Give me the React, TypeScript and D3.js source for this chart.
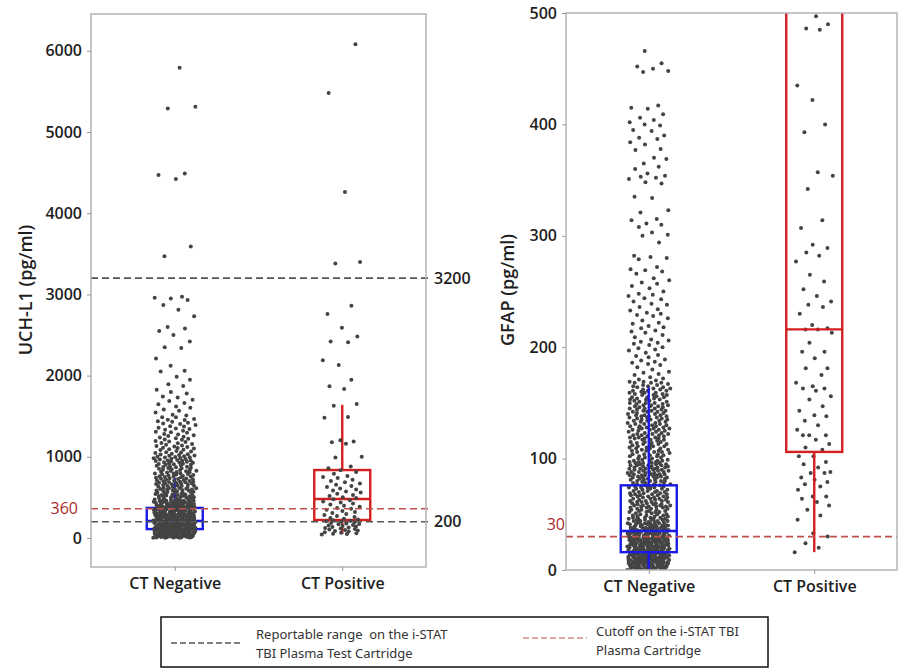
import React, { useEffect, useRef } from "react";
import * as d3 from "d3";

const categories = ["CT Negative", "CT Positive"];

// UCH-L1 (pg/ml), CT negative group
const uchNegative = [
  5790, 5310, 5290, 4490, 4470, 4420, 3590, 3470, 2960, 2970, 2950, 2930, 2870, 2810, 2730, 2600, 2580, 2550, 2500,
  2420, 2350, 2340, 2210, 2120, 2060, 2050,
  1985, 1948, 1893, 1871, 1826, 1797, 1781, 1744, 1731, 1702, 1688, 1663, 1647, 1621, 1604, 1583, 1566, 1547, 1519,
  1508, 1487, 1466, 1452, 1438, 1419, 1404, 1391, 1372, 1358, 1341, 1322, 1310, 1296, 1281, 1266, 1255, 1238, 1221,
  1209, 1196, 1183, 1171, 1158, 1147, 1133, 1121, 1113, 1102, 1094, 1083, 1071, 1064, 1052, 1047, 1038, 1029, 1021,
  1013, 1006, 1002, 1488, 1455, 1432, 1411, 1377, 1349, 1333, 1302, 1274, 1247, 1229, 1214, 1188, 1166, 1139, 1127,
  1108, 1088, 1057, 1033, 1016,
  998, 991, 985, 977, 972, 966, 958, 951, 947, 940, 933, 927, 921, 914, 908, 902, 897, 889, 884, 878, 871, 866, 859,
  853, 848, 841, 836, 829, 822, 817, 811, 806, 799, 793, 788, 781, 776, 770, 764, 759, 752, 747, 741, 735, 730, 724,
  718, 713, 707, 702, 995, 962, 931, 905, 874, 845, 813, 784, 756, 727, 981, 944, 912, 863, 826, 795, 762, 733, 711, 954,
  412, 687, 455, 531, 603, 478, 662, 419, 590, 545, 436, 508, 671, 627, 489, 402, 563, 694, 441, 519, 612, 466, 578,
  648, 427, 537, 499, 681, 586, 452, 623, 407, 555, 474, 639, 514, 698, 433, 571, 603, 486, 657, 526, 418, 595, 462,
  542, 676, 449, 616, 503, 568, 431, 689, 522, 641, 471, 584, 415, 549, 633, 495, 667, 438, 576, 512, 608, 459, 653,
  424, 535, 597, 481, 672, 446, 560, 620, 506, 409, 583, 644, 468, 529, 691, 493, 614, 443, 557, 665, 517,
  12, 187, 243, 76, 331, 158, 290, 45, 372, 119, 205, 63, 264, 348, 97, 176, 22, 311, 139, 229, 384, 88, 270, 51, 197,
  356, 131, 248, 34, 163, 320, 106, 281, 17, 214, 392, 71, 152, 337, 238, 58, 297, 124, 183, 366, 9, 257, 143, 42, 309,
  221, 84, 378, 167, 27, 276, 111, 342, 193, 66, 235, 399, 146, 14, 302, 91, 258, 178, 38, 361, 127, 216, 56, 287, 159,
  325, 103, 6, 246, 389, 171, 79, 268, 31, 199, 354, 115, 226, 48, 315, 137, 389, 19, 253, 94, 181, 340, 67, 294, 150,
  2, 210, 370, 122, 41, 279, 162, 83, 327, 232, 11, 190, 395, 100, 262, 53, 346, 141, 24, 304, 174, 73, 219, 381, 135,
  29, 284, 195, 60, 358, 110, 241, 15, 167, 318, 86, 273, 201, 37, 335, 128, 250, 4, 185, 364, 95, 222, 47, 299, 155,
  69, 376, 117, 266, 33, 207, 343, 142, 81, 289, 20, 230, 397, 108, 172, 58, 313, 254, 8, 192, 352, 131, 44, 277, 163,
  90, 368, 215, 26, 306, 119, 244, 65, 383, 180, 13, 260, 148, 77, 329, 203, 39, 295, 134, 221, 350, 98, 25, 271, 169,
  62, 387, 238, 113, 16, 322, 188, 74, 256, 145, 30,
  18, 233, 87, 301, 154, 372, 46, 209, 125, 283, 64, 339, 177, 7, 248, 101, 396, 139, 52, 265, 196, 80, 357, 120, 23,
  292, 165, 228, 39, 316, 93, 184, 5, 257, 133, 374, 70, 212, 151, 28,
  35, 278, 142, 361, 89, 214, 16, 330, 175, 52, 244, 398, 118, 287, 9, 196, 342, 74, 261, 158, 27, 311, 227, 99, 383,
  146, 41, 269, 186, 352, 61, 235, 12, 304, 129, 392, 83, 250, 170, 22, 323, 206, 112, 367, 48, 291, 160, 3, 275, 138,
  420, 445, 431, 458, 412, 437, 463, 426, 449, 405,
];

// UCH-L1 (pg/ml), CT positive group
const uchPositive = [
  6080, 5480, 4260, 3400, 3380, 2860, 2760, 2590, 2480, 2420, 2410, 2190, 2130, 1950, 1870, 1835, 1650, 1630, 1490,
  1480, 1205, 1190, 1180, 1160, 1000, 990, 880, 860,
  835, 812, 790, 764, 751, 738, 716, 702, 688, 671, 655, 640, 628, 611, 597, 584, 572, 559, 545, 531, 518, 503, 492,
  478, 466, 451, 437, 425, 412, 398, 386, 371, 359, 347, 333, 321, 308, 296, 284, 271, 259, 247, 236, 228,
  218, 212, 205, 199, 193, 186, 180, 174, 168, 161, 155, 148, 142, 136, 129, 123, 117, 110, 104, 98, 91, 85, 79, 72,
  66, 60, 54, 48, 42,
];

// GFAP (pg/ml), CT negative group
const gfapNegative = [
  466, 455, 452, 450, 448, 447, 417, 415, 414, 409, 406, 404, 402, 400, 399, 395, 394, 390, 388, 387, 384, 382, 378,
  377, 370, 369, 365, 362, 360, 356, 354, 353, 352, 351, 348, 347, 335, 334, 323, 321, 315, 314, 311, 310, 308, 303,
  301, 300, 294, 282, 281, 280, 279, 272, 270, 269, 268, 266, 262, 260, 258, 257, 255, 253, 250,
  248, 246, 243, 241, 239, 236, 234, 233, 230, 228, 226, 224, 221, 219, 218, 215, 213, 211, 209, 207, 205, 204, 202,
  200, 198, 197, 195, 193, 191, 189, 187, 186, 184, 182, 180, 178, 177, 175, 173, 171, 247, 238, 229, 222, 214, 206,
  199, 192, 185, 176, 244, 231, 217, 203, 188, 172,
  169, 104, 137, 152, 118, 161, 126, 143, 109, 158, 131, 147, 113, 166, 122, 139, 101, 155, 128, 144, 115, 163, 134,
  107, 150, 120, 141, 168, 111, 157, 125, 136, 103, 149, 117, 162, 130, 145, 108, 153, 121, 138, 165, 114, 146, 127,
  102, 159, 133, 119, 142, 167, 110, 154, 124, 140, 106, 160, 129, 148, 116, 135, 164, 112, 151, 123, 105, 143, 132,
  156, 119, 170, 100, 138, 126, 147, 113, 161, 131, 108, 152, 121, 144, 166, 117, 135, 103, 158, 128, 149, 111, 140,
  163, 125, 106, 154, 134, 118, 146, 169, 101, 137, 129, 159, 114, 150, 122, 142, 107, 165, 133, 120, 155, 139, 104,
  148, 127, 162, 112, 136, 115, 157, 130, 145, 109, 168, 123, 141, 102, 153,
  145, 118, 132, 157, 109, 126, 151, 138, 102, 164, 121, 147, 113, 135, 159, 106, 128, 142, 117, 153, 131, 110, 168,
  124, 139, 104, 148, 119, 134, 161, 111, 127, 155, 143, 107, 122, 137, 150, 115, 129,
  99, 84, 92, 87, 96, 81, 90, 94, 83, 98, 86, 91, 80, 95, 88, 93, 82, 97, 85, 89, 100, 84, 92, 87, 96, 81, 90, 94, 83,
  98, 86, 91, 80, 95, 88, 93, 82, 97, 85, 89, 91, 86, 98, 83, 94, 88, 80, 96, 92, 85,
  82, 95, 88, 91, 84, 98, 86, 93, 80, 97, 89, 83, 94, 87, 99, 81, 92, 85, 96, 90,
  3, 41, 17, 66, 29, 8, 52, 75, 12, 37, 59, 22, 1, 48, 70, 33, 14, 61, 26, 5, 44, 78, 19, 55, 31, 9, 68, 39, 2, 50, 24,
  73, 15, 57, 35, 6, 46, 63, 21, 79,
  11, 34, 58, 4, 27, 71, 43, 16, 64, 30, 7, 53, 38, 20, 76, 47, 13, 60, 25, 0, 42, 67, 32, 10, 56, 18, 74, 36, 3, 49,
  28, 62, 15, 45, 77, 23, 8, 54, 40, 69,
  6, 30, 51, 19, 72, 37, 2, 44, 65, 13, 26, 58, 9, 35, 79, 22, 48, 4, 61, 31, 17, 70, 40, 11, 53, 27, 1, 66, 38, 20, 46,
  75, 14, 57, 33, 7, 63, 24, 42, 10,
  18, 55, 5, 39, 68, 25, 12, 47, 74, 32, 3, 59, 21, 43, 15, 78, 36, 8, 52, 29, 64, 1, 45, 23, 71, 34, 11, 56, 41, 6, 62,
  28, 16, 50, 73, 37, 4, 60, 19, 33,
  9, 27, 46, 14, 65, 2, 38, 54, 21, 77, 31, 7, 49, 16, 69, 35, 24, 57, 12, 42, 3, 61, 28, 10, 52, 36, 18, 74, 44, 5, 30,
  67, 13, 40, 22, 58, 1, 47, 26, 15,
  20, 8, 35, 13, 29, 4, 43, 17, 25, 6, 39, 11, 31, 2, 22, 45, 15, 27, 7, 36, 10, 19, 33, 3, 24, 12, 41, 5, 28, 16, 37,
  9, 21, 1, 30, 14, 26, 6, 34, 18,
  23, 11, 32, 4, 19, 27, 8, 38, 14, 2, 25, 16, 31, 7, 21, 12, 36, 3, 28, 10, 17, 5, 24, 13, 33, 1, 20, 9, 29, 15, 6,
  26, 18, 35, 2, 22, 11, 30, 7, 16,
  2, 14, 27, 39, 51, 63, 75, 9, 21, 33, 45, 57, 69, 4, 16, 28, 40, 52, 64, 76, 11, 23, 35, 47, 59, 71, 6, 18, 30, 42,
  54, 66, 78, 1, 13, 25, 37, 49, 61, 73,
  8, 19, 31, 43, 55, 67, 3, 15, 26, 38, 50, 62, 74, 10, 22, 34, 46, 58, 70, 5, 17, 29, 41, 53, 65, 77, 12, 24, 36, 48,
  60, 72, 7, 20, 32, 44, 56, 68, 0, 27,
  13, 5, 22, 9, 31, 17, 3, 26, 11, 38, 7, 19, 1, 34, 15, 24, 8, 29, 12, 42, 4, 21, 16, 36, 10, 27, 2, 18, 33, 6, 23,
  14, 40, 9, 28, 3, 20, 12, 35, 25,
  4, 17, 10, 26, 1, 32, 14, 7, 22, 18, 39, 5, 12, 29, 24, 2, 15, 36, 8, 20, 11, 30, 3, 25, 16, 41, 6, 13, 27, 19, 9,
  33, 1, 23, 14, 37, 7, 21, 10, 31,
];

// GFAP (pg/ml), CT positive group (only the part visible below 500)
const gfapPositive = [
  497, 490, 486, 485, 435, 422, 400, 393, 357, 354, 342, 314, 307, 292, 289, 285, 282, 277, 265, 259, 252, 246, 241,
  238, 236, 230, 220, 217, 216, 216, 213, 204, 196, 196, 190, 181, 181, 175, 168, 165, 163, 163, 161, 156, 153, 147,
  143, 139, 138, 134, 130, 126, 121, 121, 121, 117, 113, 110, 108, 102, 102, 97, 95, 92, 88, 87, 87, 83, 81, 79, 77,
  75, 72, 66, 66, 64, 61, 58, 54, 49, 45, 33, 30, 24, 20, 16,
];

// box stats per category: [whisker low, Q1, median, Q3, whisker high]
const uchBoxes = [
  [10, 110, 210, 370, 740],
  [50, 222, 480, 837, 1640],
];
const gfapBoxes = [
  [1, 16, 35, 76, 164],
  [16, 106, 216, 620, 1100],
];

const uchTicks = [0, 1000, 2000, 3000, 4000, 5000, 6000];
const gfapTicks = [0, 100, 200, 300, 400, 500];
const uchReportable = [3200, 200];
const uchCutoff = 360;
const gfapCutoff = 30;

const FONT = "'Open Sans', 'Noto Sans', sans-serif";
const BOX_COLORS = ["#1a1ae6", "#d41f1f"];
const DOT = "#444444";
const GREY_DASH = "#555555";
const RED_DASH = "#c0504d";

// deterministic horizontal jitter, in [-0.5, 0.5)
const jitter = (k) => {
  const h = Math.sin(k * 127.1 + 3.7) * 43758.5453;
  const r = h - Math.floor(h);
  const g = (k * 0.6180339887) % 1;
  return (g * 0.92 + r * 0.08) - 0.5;
};

function drawPanel(svg, p) {
  const x = d3.scalePoint().domain(categories).range([p.x0, p.x1]).padding(0.5);
  const y = d3.scaleLinear().domain(p.domain).range([p.y1, p.y0]);

  svg
    .append("clipPath")
    .attr("id", p.clipId)
    .append("rect")
    .attr("x", p.x0)
    .attr("y", p.y0)
    .attr("width", p.x1 - p.x0)
    .attr("height", p.y1 - p.y0);

  const plot = svg.append("g").attr("clip-path", `url(#${p.clipId})`);

  const drawDots = () => {
    p.groups.forEach((vals, i) => {
      const sorted = [...vals].sort((a, b) => a - b);
      plot
        .append("g")
        .selectAll("circle")
        .data(sorted)
        .join("circle")
        .attr("cx", (d, k) => x(categories[i]) + jitter(k) * 2 * p.halfW[i])
        .attr("cy", (d) => y(d))
        .attr("r", 2)
        .attr("fill", DOT);
    });
  };

  const drawBoxes = () => {
    p.boxes.forEach((b, i) => {
      const cx = x(categories[i]);
      const [lo, q1, med, q3, hi] = b;
      const g = plot.append("g").attr("stroke", BOX_COLORS[i]).attr("stroke-width", 2.4).attr("fill", "none");
      g.append("line").attr("x1", cx).attr("x2", cx).attr("y1", y(lo)).attr("y2", y(q1));
      g.append("line").attr("x1", cx).attr("x2", cx).attr("y1", y(q3)).attr("y2", y(hi));
      g.append("rect")
        .attr("x", cx - 28)
        .attr("width", 56)
        .attr("y", y(q3))
        .attr("height", y(q1) - y(q3));
      g.append("line").attr("x1", cx - 28).attr("x2", cx + 28).attr("y1", y(med)).attr("y2", y(med));
    });
  };

  if (p.boxesOnTop) {
    drawDots();
    drawBoxes();
  } else {
    drawBoxes();
    drawDots();
  }

  // reference lines
  p.refLines.forEach((r) => {
    svg
      .append("line")
      .attr("x1", p.x0)
      .attr("x2", r.x2)
      .attr("y1", y(r.value))
      .attr("y2", y(r.value))
      .attr("stroke", r.color)
      .attr("stroke-width", 1.6)
      .attr("stroke-dasharray", "7,4");
    if (r.label) {
      svg
        .append("text")
        .attr("x", r.lx)
        .attr("y", y(r.value) + (r.dy || 0))
        .attr("dy", "0.35em")
        .attr("text-anchor", r.anchor)
        .style("font-family", FONT)
        .style("font-size", "16px")
        .style("font-weight", r.weight || 600)
        .attr("fill", r.labelColor)
        .text(r.label);
    }
  });

  // frame
  svg
    .append("rect")
    .attr("x", p.x0)
    .attr("y", p.y0)
    .attr("width", p.x1 - p.x0)
    .attr("height", p.y1 - p.y0)
    .attr("fill", "none")
    .attr("stroke", "#b4b4b4")
    .attr("stroke-width", 1.5);

  const yAxis = svg
    .append("g")
    .attr("transform", `translate(${p.x0},0)`)
    .call(d3.axisLeft(y).tickValues(p.ticks).tickFormat(d3.format("d")).tickSize(4).tickPadding(5));
  const xAxis = svg
    .append("g")
    .attr("transform", `translate(0,${p.y1})`)
    .call(d3.axisBottom(x).tickSize(4).tickPadding(7));
  [yAxis, xAxis].forEach((a) => {
    a.select(".domain").remove();
    a.selectAll(".tick line").attr("stroke", "#9a9a9a");
    a.selectAll("text")
      .style("font-family", FONT)
      .style("font-size", "16px")
      .style("font-weight", 600)
      .attr("fill", "#1e1e1e");
  });

  svg
    .append("text")
    .attr("transform", `translate(${p.titleX},${p.titleY}) rotate(-90)`)
    .attr("dy", "0.35em")
    .attr("text-anchor", "middle")
    .style("font-family", FONT)
    .style("font-size", "18px")
    .style("font-weight", 600)
    .attr("fill", "#1e1e1e")
    .text(p.title);
}

const App = () => {
  const svgRef = useRef();

  useEffect(() => {
    const svg = d3.select(svgRef.current);
    svg.selectAll("*").remove();

    drawPanel(svg, {
      clipId: "clip-uch",
      x0: 91,
      x1: 426,
      y0: 14,
      y1: 567,
      domain: [-357, 6453],
      ticks: uchTicks,
      groups: [uchNegative, uchPositive],
      boxes: uchBoxes,
      halfW: [22, 21],
      boxesOnTop: false,
      title: "UCH-L1 (pg/ml)",
      titleX: 26,
      titleY: 290,
      refLines: [
        { value: uchReportable[0], x2: 430, color: GREY_DASH, label: String(uchReportable[0]), lx: 434, anchor: "start", labelColor: "#1e1e1e" },
        { value: uchReportable[1], x2: 430, color: GREY_DASH, label: String(uchReportable[1]), lx: 434, anchor: "start", labelColor: "#1e1e1e" },
        { value: uchCutoff, x2: 430, color: RED_DASH, label: String(uchCutoff), lx: 78, anchor: "end", labelColor: "#a82a2a", weight: 500 },
      ],
    });

    drawPanel(svg, {
      clipId: "clip-gfap",
      x0: 566,
      x1: 897,
      y0: 13,
      y1: 570,
      domain: [0, 500],
      ticks: gfapTicks,
      groups: [gfapNegative, gfapPositive],
      boxes: gfapBoxes,
      halfW: [22, 20],
      boxesOnTop: true,
      title: "GFAP (pg/ml)",
      titleX: 508,
      titleY: 290,
      refLines: [
        { value: gfapCutoff, x2: 897, color: RED_DASH, label: String(gfapCutoff), lx: 565, dy: -12, anchor: "end", labelColor: "#a82a2a", weight: 500 },
      ],
    });

    // legend
    const lg = svg.append("g");
    lg.append("rect")
      .attr("x", 161)
      .attr("y", 617)
      .attr("width", 607)
      .attr("height", 50)
      .attr("fill", "none")
      .attr("stroke", "#111")
      .attr("stroke-width", 1.5);
    lg.append("line")
      .attr("x1", 171)
      .attr("x2", 242)
      .attr("y1", 643)
      .attr("y2", 643)
      .attr("stroke", GREY_DASH)
      .attr("stroke-width", 1.6)
      .attr("stroke-dasharray", "6,3");
    lg.append("line")
      .attr("x1", 523)
      .attr("x2", 587)
      .attr("y1", 638)
      .attr("y2", 638)
      .attr("stroke", "#d28a8a")
      .attr("stroke-width", 1.6)
      .attr("stroke-dasharray", "6,3");
    const legendText = [
      { x: 256, y: 639, t: "Reportable range  on the i-STAT" },
      { x: 256, y: 658, t: "TBI Plasma Test Cartridge" },
      { x: 596, y: 636, t: "Cutoff on the i-STAT TBI" },
      { x: 596, y: 655, t: "Plasma Cartridge" },
    ];
    lg.selectAll("text")
      .data(legendText)
      .join("text")
      .attr("x", (d) => d.x)
      .attr("y", (d) => d.y)
      .style("font-family", "'Noto Sans', sans-serif")
      .style("font-size", "13px")
      .style("white-space", "pre")
      .attr("fill", "#333")
      .text((d) => d.t);
  }, []);

  return (
    <svg
      ref={svgRef}
      width={899}
      height={669}
      style={{ position: "absolute", left: 0, top: 0, background: "#fff" }}
    />
  );
};

export default App;
